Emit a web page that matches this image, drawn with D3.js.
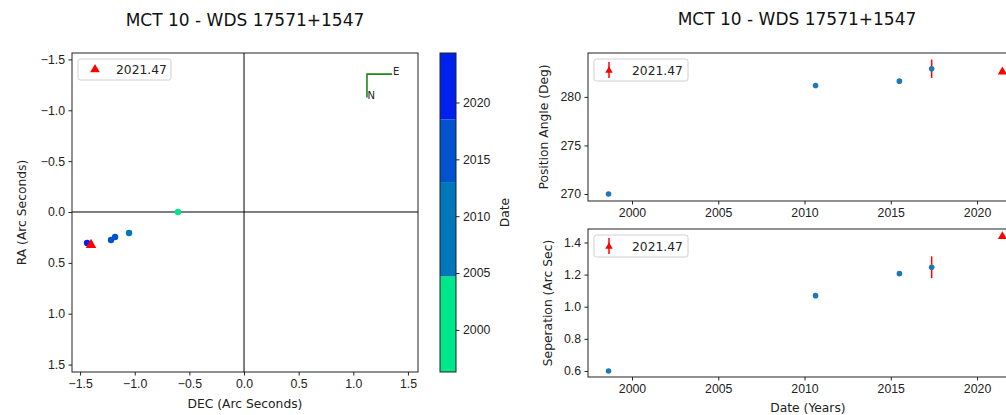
<!DOCTYPE html>
<html>
<head>
<meta charset="utf-8">
<script src="https://cdn.jsdelivr.net/npm/d3@7"></script>
<style>
  html, body { margin: 0; padding: 0; background: #fff; }
  svg { display: block; font-family: "DejaVu Sans", sans-serif; }
  .tick text { font-size: 12.3px; fill: #222; }
</style>
</head>
<body>
<svg id="chart" width="1006" height="415"></svg>
<script>
// ---- relative positions (DEC / RA, arc seconds) ----
const posDec = [-0.604, -1.052, -1.180, -1.217, -1.436];
const posRa = [0.0, 0.206, 0.246, 0.275, 0.305];
const posYear = [1998.64, 2010.64, 2015.5, 2017.37, 2021.47];

// current measurement
const curLabel = "2021.47";
const curDec = -1.40;
const curRa = 0.324;
const curYear = 2021.47;
const curPa = 282.58;
const curSep = 1.4375;

// ---- history for the time-series panels ----
const histYear = [1998.64, 2010.64, 2015.5, 2017.37];
const histPa = [270.0, 281.17, 281.62, 282.9];
const histPaErr = [0, 0, 0, 0.95];
const histSep = [0.600, 1.069, 1.206, 1.246];
const histSepErr = [0, 0, 0, 0.068];

// ---- colour bar (date) ----
const cbBounds = [1996.3, 2004.7, 2013.0, 2018.5, 2024.35];
const cbColors = ["#00e68a", "#0077bb", "#0052cf", "#0020ee"];
const cbTicks = [2000, 2005, 2010, 2015, 2020];

// ---- ticks ----
const posTicks = [-1.5, -1.0, -0.5, 0.0, 0.5, 1.0, 1.5];
const yearTicks = [2000, 2005, 2010, 2015, 2020];
const paTicks = [270, 275, 280];
const sepTicks = [0.6, 0.8, 1.0, 1.2, 1.4];

const title = "MCT 10 - WDS 17571+1547";

const svg = d3.select("#chart");
const fmt1 = d3.format(".1f");
const minusFmt = v => fmt1(v).replace("-", "\u2212");
const spine = "#222";
const labelSize = 12.3;

function styleAxis(g) {
  g.select(".domain").remove();
  g.selectAll(".tick line").attr("stroke", spine);
  g.selectAll(".tick text").attr("fill", "#222");
}
function frame(x0, y0, w, h) {
  svg.append("rect").attr("x", x0).attr("y", y0).attr("width", w).attr("height", h)
    .attr("fill", "none").attr("stroke", spine).attr("stroke-width", 1);
}
function triangle(g, cx, cy, s, color) {
  const sym = d3.symbol().type(d3.symbolTriangle).size(s);
  g.append("path").attr("d", sym()).attr("transform", `translate(${cx},${cy})`).attr("fill", color);
}
function legendBox(x0, y0, w, h) {
  const g = svg.append("g");
  g.append("rect").attr("x", x0).attr("y", y0).attr("width", w).attr("height", h)
    .attr("rx", 2.5).attr("fill", "#fff").attr("fill-opacity", 0.85)
    .attr("stroke", "#d0d0d0").attr("stroke-width", 1);
  return g;
}

// ================= LEFT: relative position =================
const L = { x0: 72, x1: 418, y0: 53, y1: 372 };
const xDec = d3.scaleLinear().domain([-1.574, 1.592]).range([L.x0, L.x1]);
const yRa = d3.scaleLinear().domain([-1.563, 1.573]).range([L.y0, L.y1]);
const dateColor = d3.scaleThreshold().domain(cbBounds.slice(1, -1)).range(cbColors);

const left = svg.append("g");
const clipL = svg.append("clipPath").attr("id", "clipL");
clipL.append("rect").attr("x", L.x0).attr("y", L.y0).attr("width", L.x1 - L.x0).attr("height", L.y1 - L.y0);

const plotL = left.append("g").attr("clip-path", "url(#clipL)");
// cross-hair through the primary
plotL.append("line").attr("x1", L.x0).attr("x2", L.x1).attr("y1", yRa(0)).attr("y2", yRa(0))
  .attr("stroke", "#000").attr("stroke-width", 1);
plotL.append("line").attr("x1", xDec(0)).attr("x2", xDec(0)).attr("y1", L.y0).attr("y2", L.y1)
  .attr("stroke", "#000").attr("stroke-width", 1);

plotL.selectAll("circle.pos").data(posDec).join("circle").attr("class", "pos")
  .attr("cx", (d) => xDec(d)).attr("cy", (d, i) => yRa(posRa[i])).attr("r", 3.2)
  .attr("fill", (d, i) => dateColor(posYear[i]));
triangle(plotL, xDec(curDec), yRa(curRa), 48, "#ff0000");

// compass (N / E) in data coordinates
const compass = { dec: 1.125, ra: -1.355, len: 0.23 };
const cg = plotL.append("g");
cg.append("path")
  .attr("d", `M${xDec(compass.dec)},${yRa(compass.ra + compass.len)}V${yRa(compass.ra)}H${xDec(compass.dec + compass.len)}`)
  .attr("fill", "none").attr("stroke", "#1a8a1a").attr("stroke-width", 1.6);
cg.append("text").attr("x", xDec(compass.dec + compass.len) + 1).attr("y", yRa(compass.ra) + 1)
  .attr("font-size", 10).attr("fill", "#222").text("E");
cg.append("text").attr("x", xDec(compass.dec) + 0.5).attr("y", yRa(compass.ra + compass.len) + 1)
  .attr("font-size", 10).attr("fill", "#222").text("N");

frame(L.x0, L.y0, L.x1 - L.x0, L.y1 - L.y0);

left.append("g").attr("transform", `translate(0,${L.y1})`)
  .call(d3.axisBottom(xDec).tickValues(posTicks).tickFormat(minusFmt).tickSizeOuter(0).tickSize(3.5).tickPadding(3.5))
  .call(styleAxis);
left.append("g").attr("transform", `translate(${L.x0},0)`)
  .call(d3.axisLeft(yRa).tickValues(posTicks).tickFormat(minusFmt).tickSizeOuter(0).tickSize(3.5).tickPadding(3.5))
  .call(styleAxis);

const lg = legendBox(78, 59, 93, 21);
triangle(lg, 95, 69.5, 40, "#ff0000");
lg.append("text").attr("x", 116).attr("y", 74).attr("font-size", labelSize).attr("fill", "#222").text(curLabel);

svg.append("text").attr("x", (L.x0 + L.x1) / 2).attr("y", 26).attr("text-anchor", "middle")
  .attr("font-size", 17).attr("fill", "#111").text(title);
svg.append("text").attr("x", (L.x0 + L.x1) / 2).attr("y", 408).attr("text-anchor", "middle")
  .attr("font-size", labelSize).attr("fill", "#222").text("DEC (Arc Seconds)");
svg.append("text").attr("transform", `translate(26,${(L.y0 + L.y1) / 2}) rotate(-90)`)
  .attr("text-anchor", "middle").attr("font-size", labelSize).attr("fill", "#222").text("RA (Arc Seconds)");

// ================= colour bar =================
const CB = { x0: 440, x1: 456, y0: 53, y1: 372 };
const yCb = d3.scaleLinear().domain([cbBounds[0], cbBounds[cbBounds.length - 1]]).range([CB.y1, CB.y0]);
svg.append("g").selectAll("rect").data(cbColors).join("rect")
  .attr("x", CB.x0).attr("width", CB.x1 - CB.x0)
  .attr("y", (d, i) => yCb(cbBounds[i + 1])).attr("height", (d, i) => yCb(cbBounds[i]) - yCb(cbBounds[i + 1]))
  .attr("fill", (d) => d);
frame(CB.x0, CB.y0, CB.x1 - CB.x0, CB.y1 - CB.y0);
svg.append("g").attr("transform", `translate(${CB.x1},0)`)
  .call(d3.axisRight(yCb).tickValues(cbTicks).tickFormat(d3.format("d")).tickSize(3.5).tickPadding(3.5))
  .call(styleAxis);
svg.append("text").attr("transform", `translate(509,${(CB.y0 + CB.y1) / 2}) rotate(-90)`)
  .attr("text-anchor", "middle").attr("font-size", labelSize).attr("fill", "#222").text("Date");

// ================= RIGHT: time series =================
const R = { x0: 588, x1: 1040 };
const xYear = d3.scaleLinear().domain([1997.45, 2023.65]).range([R.x0, R.x1]);
const blue = "#1f77b4";

function panel(y0, y1, domain, ticks, tickFmt, yv, ev, curV, label, labelX) {
  const y = d3.scaleLinear().domain(domain).range([y1, y0]);
  const g = svg.append("g");
  g.selectAll("line.err").data(histYear.filter((d, i) => ev[i] > 0)).join("line")
    .attr("class", "err")
    .attr("x1", d => xYear(d)).attr("x2", d => xYear(d))
    .attr("y1", d => y(yv[histYear.indexOf(d)] - ev[histYear.indexOf(d)]))
    .attr("y2", d => y(yv[histYear.indexOf(d)] + ev[histYear.indexOf(d)]))
    .attr("stroke", "#ff0000").attr("stroke-width", 1.5);
  g.selectAll("circle").data(histYear).join("circle")
    .attr("cx", d => xYear(d)).attr("cy", (d, i) => y(yv[i])).attr("r", 2.8).attr("fill", blue);
  triangle(g, xYear(curYear), y(curV), 36, "#ff0000");
  frame(R.x0, y0, R.x1 - R.x0, y1 - y0);
  g.append("g").attr("transform", `translate(0,${y1})`)
    .call(d3.axisBottom(xYear).tickValues(yearTicks).tickFormat(d3.format("d")).tickSizeOuter(0).tickSize(3.5).tickPadding(3.5))
    .call(styleAxis);
  g.append("g").attr("transform", `translate(${R.x0},0)`)
    .call(d3.axisLeft(y).tickValues(ticks).tickFormat(tickFmt).tickSizeOuter(0).tickSize(3.5).tickPadding(3.5))
    .call(styleAxis);
  const lb = legendBox(594, y0 + 6, 94, 22);
  lb.append("line").attr("x1", 609).attr("x2", 609).attr("y1", y0 + 9).attr("y2", y0 + 25)
    .attr("stroke", "#ff0000").attr("stroke-width", 1.5);
  triangle(lb, 609, y0 + 17.5, 24, "#ff0000");
  lb.append("text").attr("x", 632).attr("y", y0 + 21.5).attr("font-size", labelSize).attr("fill", "#222").text(curLabel);
  svg.append("text").attr("transform", `translate(${labelX},${(y0 + y1) / 2}) rotate(-90)`)
    .attr("text-anchor", "middle").attr("font-size", labelSize).attr("fill", "#222").text(label);
}

panel(53, 201, [269.28, 284.52], paTicks, d3.format("d"), histPa, histPaErr, curPa, "Position Angle (Deg)", 548);
panel(229, 377, [0.5625, 1.484], sepTicks, d3.format(".1f"), histSep, histSepErr, curSep, "Seperation (Arc Sec)", 552);

svg.append("text").attr("x", 797).attr("y", 25).attr("text-anchor", "middle")
  .attr("font-size", 17).attr("fill", "#111").text(title);
svg.append("text").attr("x", xYear(2010.2)).attr("y", 412).attr("text-anchor", "middle")
  .attr("font-size", labelSize).attr("fill", "#222").text("Date (Years)");
</script>
</body>
</html>
